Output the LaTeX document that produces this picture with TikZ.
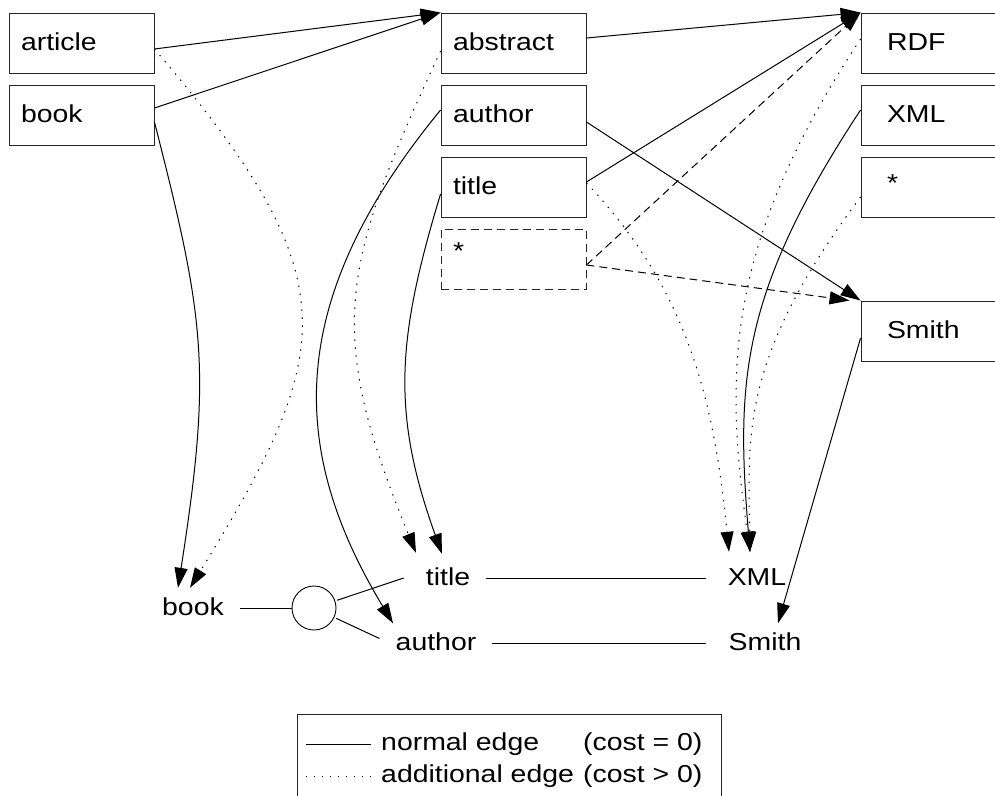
\documentclass[tikz,border=0pt]{standalone}
\usepackage{fontspec}
\setmainfont{Liberation Sans}[FakeStretch=1.16]
\usetikzlibrary{arrows.meta}
\begin{document}
\begin{tikzpicture}[x=1pt,y=-1pt,
  every node/.style={font=\fontsize{24.5}{28}\selectfont},
  box/.style={draw=black!85, line width=0.9pt, rectangle, minimum width=145pt, minimum height=60pt, inner xsep=12pt, inner ysep=0pt, text width=121pt, align=left, text height=16pt, text depth=2pt},
  rbox/.style={box, inner xsep=26pt, text width=93pt},
  lab/.style={inner xsep=16pt, inner ysep=11pt, text height=16pt, text depth=2pt},
  rlab/.style={lab, inner xsep=22pt},
  arr/.style={line width=1pt, -{Triangle[length=20pt,width=13pt]}},
  ln/.style={line width=1pt},
  dotline/.style={dash pattern=on 1.4pt off 6.6pt},
  dashline/.style={dash pattern=on 8pt off 5pt},
  legtxt/.style={anchor=west, inner sep=0pt, text height=16pt, text depth=2pt}
]
\clip (0,0) rectangle (995,795);
% top boxes
\node[box] (article) at (81.5,43) {article};
\node[box] (book) at (81.5,115) {book};
\node[box] (abstract) at (513.5,43) {abstract};
\node[box] (author) at (513.5,115) {author};
\node[box] (title) at (513.5,187) {title};
\node[box, dashline] (star1) at (513.5,259) {\raisebox{7pt}{*}};
\node[rbox] (rdf) at (933.5,43) {RDF};
\node[rbox] (xml) at (933.5,115) {XML};
\node[rbox] (star2) at (933.5,187) {\raisebox{3pt}{*}};
\node[rbox] (smith) at (933.5,331) {Smith};
% bottom query
\node[lab] (bbook) at (193,608) {book};
\node[circle, draw, line width=0.9pt, minimum size=44pt, inner sep=0pt] (circ) at (314,608) {};
\node[lab] (btitle) at (448,578) {title};
\node[lab] (bauthor) at (436,643.5) {author};
\node[rlab] (bxml) at (757,578) {XML};
\node[rlab] (bsmith) at (765,643.5) {Smith};
% edges
\draw[arr] ([yshift=-6pt]article.east) -- (abstract.north west);
\draw[arr] ([yshift=7pt]book.east) -- (abstract.north west);
\draw[arr, dotline] ([yshift=-6pt]article.east) .. controls (349,277) and (338,348) .. ([xshift=-3pt]bbook.north);
\draw[arr] ([yshift=-7pt]book.east) .. controls (205,320) and (212,370) .. ([xshift=-15pt]bbook.north);
\draw[arr, dotline] ([yshift=-8pt]abstract.west) .. controls (340,267) and (325,331) .. ([xshift=-32pt,yshift=5pt]btitle.north);
\draw[arr] ([yshift=5pt]author.west) .. controls (283,302) and (289,451) .. ([xshift=-43pt]bauthor.north);
\draw[arr] ([yshift=-7pt]title.west) .. controls (397,338) and (391,412) .. ([xshift=-6pt,yshift=4pt]btitle.north);
\draw[arr] ([yshift=5pt]abstract.east) -- (rdf.north west);
\draw[arr] ([yshift=-7pt]author.east) -- (smith.north west);
\draw[arr] ([yshift=5pt]title.east) -- (rdf.north west);
\draw[arr, dotline] ([yshift=4pt]title.east) .. controls (689,291) and (714,402) .. ([xshift=-28pt,yshift=6pt]bxml.north);
\draw[arr, dashline] ([yshift=-6pt]star1.east) -- (rdf.north west);
\draw[arr, dashline] ([yshift=-6pt]star1.east) -- ([xshift=-11pt]smith.north west);
\draw[arr, dotline] ([yshift=4pt]rdf.west) .. controls (723.5,246.5) and (725,374) .. ([xshift=-7pt,yshift=6pt]bxml.north);
\draw[arr] ([yshift=5pt]xml.west) .. controls (740,293) and (736,382) .. ([xshift=-7pt,yshift=6pt]bxml.north);
\draw[arr, dotline] ([yshift=-10pt]star2.west) .. controls (741,357) and (748,432) .. ([xshift=-7pt,yshift=6pt]bxml.north);
\draw[arr] ([yshift=-7pt]smith.west) -- ([xshift=13pt]bsmith.north);
% query lines
\draw[ln] (bbook) -- (circ);
\draw[ln, shorten <=2pt] (circ) -- ([xshift=-6pt]btitle.west);
\draw[ln, shorten <=2pt] (circ) -- ([yshift=5pt]bauthor.west);
\draw[ln] (btitle) -- (bxml);
\draw[ln] (bauthor) -- (bsmith);
% legend
\node[draw=black!85, line width=0.9pt, minimum width=424pt, minimum height=92pt, inner sep=0pt] (legend) at (509,760) {};
\coordinate (s1a) at (306,744); \coordinate (s1b) at (371,744);
\coordinate (s2a) at (306,776); \coordinate (s2b) at (371,776);
\draw[ln] (s1a) -- (s1b);
\draw[ln, dotline] (s2a) -- (s2b);
\node[legtxt] (lg1) at (381,743) {normal edge};
\node[legtxt] (lg2) at (381,775) {additional edge};
\node[legtxt] (lg3) at (583,743) {(cost = 0)};
\node[legtxt] (lg4) at (583,775) {(cost > 0)};
\end{tikzpicture}
\end{document}
